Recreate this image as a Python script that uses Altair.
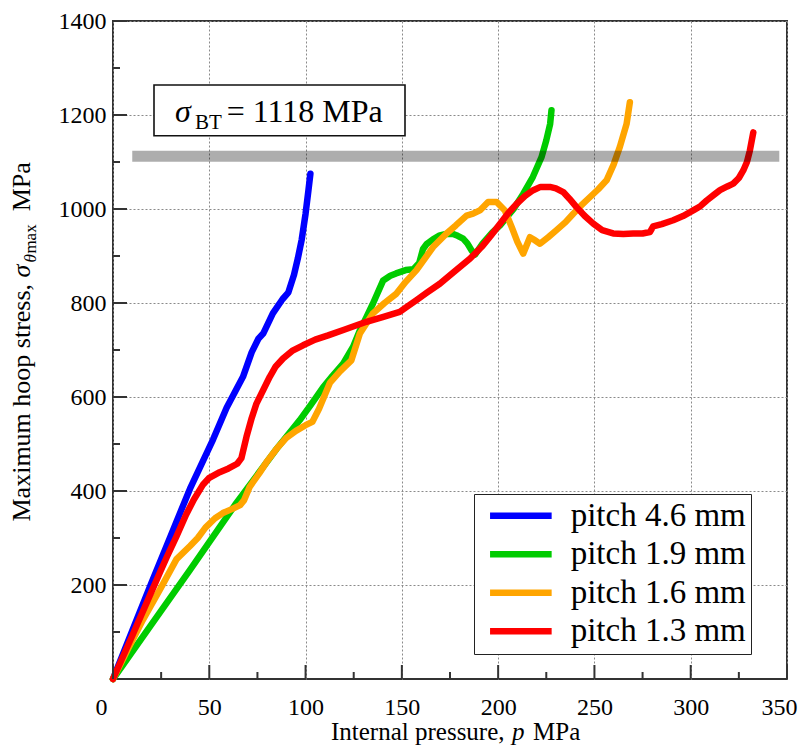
import altair as alt
import pandas as pd

# ---------------- data ----------------
series_names = ["pitch 4.6 mm", "pitch 1.9 mm", "pitch 1.6 mm", "pitch 1.3 mm"]
series_colors = ["#0000ff", "#00cc00", "#ffa500", "#ff0000"]

blue_p = [0, 10, 20, 30, 40, 47, 52, 59, 64, 67.5, 72, 75.5, 78, 83, 88, 91, 94, 96, 98, 100, 101.5, 102.5]
blue_s = [0, 103, 205, 305, 405, 466, 510, 577, 616, 643, 695, 724, 735, 778, 808, 822, 860, 895, 935, 990, 1040, 1075]

green_p = [0, 20, 40, 64, 85, 97, 103, 109, 114, 119.5, 124.7, 128, 131.6, 135, 140.3, 144, 147, 152, 156, 159,
           161, 163, 166, 169.7, 173, 176.6, 179, 181.8, 184, 186.2, 188, 192, 197, 201, 205, 208, 213, 218, 222.5,
           225, 227, 227.7]
green_s = [0, 116, 232, 374, 490, 551, 585, 620, 645, 671, 707, 740, 770, 799, 848, 858, 863, 870, 872, 885,
           915, 926, 935, 944, 947, 947, 943, 937, 927, 912, 903, 927, 950, 965, 985, 1000, 1032, 1068, 1110,
           1146, 1181, 1210]

orange_p = [0, 8, 15, 25, 33, 40, 44, 48, 53, 57, 62, 66, 68, 71, 76, 80, 85, 90, 95, 100,
            103.5, 107, 112.6, 118, 123.8, 128.2, 135, 141, 147.2, 152, 157.6, 162, 166.2, 173.2, 178, 183.6, 187,
            190.5, 194.8, 199.2, 203.5, 207, 210, 213, 216.5, 218.5, 221.7, 226, 230.3, 235, 239, 243, 247.6, 252,
            256.3, 260, 263.2, 266.7, 268.4]
orange_s = [0, 66, 122, 195, 255, 283, 300, 322, 342, 353, 362, 370, 380, 409, 438, 463, 490, 513, 528, 540,
            547, 575, 630, 655, 678, 735, 778, 800, 820, 845, 870, 895, 919, 948, 965, 986, 990,
            997, 1015, 1015, 997, 962, 930, 905, 940, 935, 926, 940, 955, 972, 990, 1007, 1025, 1042,
            1061, 1095, 1132, 1181, 1227]

red_p = [0, 10, 20, 24.3, 28, 32.9, 38, 42, 46.8, 50, 55.4, 60, 64.5, 66.7, 69.3, 72, 74.5, 78, 81.4, 84.5,
         88.3, 93, 98.7, 105, 111.7, 120, 131.6, 140, 148.9, 152, 157.6, 163, 169.7, 177, 185.3, 192, 196, 200.9,
         205, 209.6, 214, 218.2, 222, 226.9, 230, 233.8, 237, 240.7, 245, 249.4, 254, 259.7, 265, 270.1, 275,
         278.8, 280.5, 285, 290.9, 296, 301.3, 305, 308.3, 312, 315.2, 319, 322.1, 325, 327.3, 329.2, 330.7, 332.5]
red_s = [0, 92, 186, 226, 260, 303, 350, 382, 414, 428, 440, 448, 458, 470, 515, 555, 586, 615, 643, 665,
         682, 698, 710, 722, 731, 743, 760, 770, 781, 790, 806, 822, 841, 866, 894, 922, 942, 968,
         990, 1011, 1028, 1040, 1047, 1047, 1044, 1036, 1022, 1004, 985, 969, 955, 948, 947, 948, 948,
         951, 963, 968, 976, 985, 997, 1006, 1018, 1030, 1040, 1048, 1054, 1066, 1082, 1100, 1124, 1163]

sigma_bt = 1112           # drawn position of the sigma_BT band
band_p = [10, 346]        # extent of the band along the pressure axis

x_major = [0, 50, 100, 150, 200, 250, 300, 350]
x_minor = [25, 75, 125, 175, 225, 275, 325]
y_major = [200, 400, 600, 800, 1000, 1200, 1400]
y_minor = [100, 300, 500, 700, 900, 1100, 1300]

# ---------------- build tables ----------------
rows = []
for name, ps, ss in zip(series_names,
                        [blue_p, green_p, orange_p, red_p],
                        [blue_s, green_s, orange_s, red_s]):
    assert len(ps) == len(ss), name
    for i, (p, s) in enumerate(zip(ps, ss)):
        rows.append({"series": name, "p": p, "s": s, "i": i})
df = pd.DataFrame(rows)

FONT = "Liberation Serif"
W, H = 674, 658
xs = alt.Scale(domain=[0, 350], nice=False, zero=False)
ys = alt.Scale(domain=[0, 1400], nice=False, zero=False)

x_axis = alt.Axis(values=x_major, format="d", grid=True, gridDash=[2, 2], gridColor="#8a8a8a", gridWidth=1,
                  ticks=False, domain=False, labelFont=FONT, labelFontSize=24, labelColor="black",
                  labelPadding=16, labelFlush=False, labelOverlap=False, title=None,
                  labelOffset={"condition": [{"test": "datum.value == 0", "value": -12},
                                             {"test": "datum.value == 350", "value": -8}],
                               "value": 0})
y_axis = alt.Axis(values=y_major, format="d", grid=True, gridDash=[2, 2], gridColor="#8a8a8a", gridWidth=1,
                  ticks=False, domain=False, labelFont=FONT, labelFontSize=24, labelColor="black",
                  labelPadding=7, labelFlush=False, labelOverlap=False, title=None)

legend = alt.Legend(orient="none", legendX=361, legendY=473, direction="vertical", title=None,
                    fillColor="white", strokeColor="#222222", padding=5.2, rowPadding=4.5,
                    symbolType="M-3.08,0H3.08", symbolSize=400, symbolStrokeWidth=6.5,
                    symbolOffset=25.15, labelOffset=33.3, labelFont=FONT, labelFontSize=33,
                    labelColor="black", labelLimit=400)

color = alt.Color("series:N", scale=alt.Scale(domain=series_names, range=series_colors),
                  sort=series_names, legend=legend)

X = lambda f: alt.X(f, scale=xs, axis=x_axis)
Y = lambda f: alt.Y(f, scale=ys, axis=y_axis)

line_layers = [
    alt.Chart(df).transform_filter(alt.datum.series == name)
    .mark_line(strokeWidth=6.5, strokeCap="round", strokeJoin="round")
    .encode(x=X("p:Q"), y=Y("s:Q"), color=color, order="i:Q")
    for name in series_names
]

band = alt.Chart(pd.DataFrame({"p1": [band_p[0]], "p2": [band_p[1]], "s": [sigma_bt]})).mark_rule(
    color="black", opacity=0.32, strokeWidth=11
).encode(x=X("p1:Q"), x2="p2:Q", y=Y("s:Q"))

def tick_layer(vals, length, axis):
    d = pd.DataFrame({"v": vals})
    m = alt.Chart(d).mark_rule(color="#333333", strokeWidth=2)
    if axis == "x":
        return m.encode(x=X("v:Q"), y=alt.value(H), y2=alt.value(H - length))
    return m.encode(y=Y("v:Q"), x=alt.value(0), x2=alt.value(length))

ticks = [tick_layer(x_major, 14, "x"), tick_layer(x_minor, 7, "x"),
         tick_layer(y_major, 14, "y"), tick_layer(y_minor, 7, "y")]

one = pd.DataFrame({"k": [0]})

def label(txt, x, y, size, style="normal", angle=0):
    return alt.Chart(one).mark_text(text=txt, font=FONT, fontSize=size, fontStyle=style, color="black",
                                    align="left", baseline="alphabetic", angle=angle).encode(
        x=alt.value(x), y=alt.value(y))

# sigma_BT box
box = alt.Chart(one).mark_rect(fill="white", stroke="#111111", strokeWidth=1.6).encode(
    x=alt.value(41), x2=alt.value(292), y=alt.value(64), y2=alt.value(114.7))
box_texts = [
    label("σ", 62, 100.7, 32, "italic"),
    label("BT", 82, 107.5, 21),
    label("= 1118 MPa", 113.7, 100.7, 32),
]

# x-axis title
x_title = [
    label("Internal pressure,", 218, 719, 25),
    label("p", 399, 719, 25, "italic"),
    label("MPa", 420, 719, 25),
]

# y-axis title (rotated, reading bottom to top)
yb = -83
y_title = [
    label("Maximum hoop stress,", yb, 500.5, 26, angle=270),
    label("σ", yb, 256.4, 26, "italic", angle=270),
    label("θ", yb + 6, 241.6, 17, "italic", angle=270),
    label("max", yb + 6, 232.6, 17, angle=270),
    label("MPa", yb, 190.3, 26, angle=270),
]

chart = alt.layer(*line_layers, band, *ticks, box, *box_texts, *x_title, *y_title).properties(
    width=W, height=H,
    autosize=alt.AutoSizeParams(type="none"),
    padding={"left": 105, "top": 13, "right": 11, "bottom": 70},
    background="white",
).configure_view(stroke="#333333", strokeWidth=2)

chart.save("out.html", embed_options={"renderer": "svg", "actions": False})
